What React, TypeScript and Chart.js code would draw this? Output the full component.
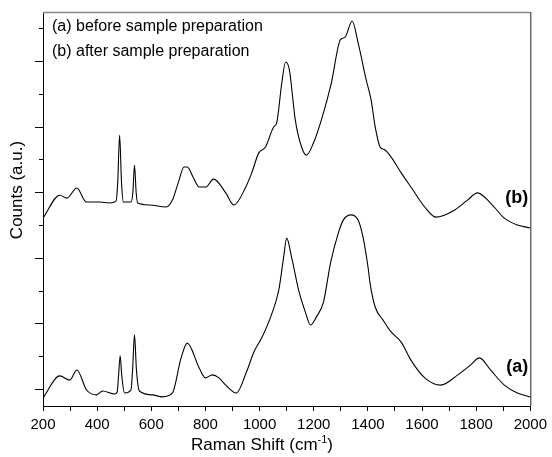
import React, { useEffect, useRef } from "react";
import { Chart, registerables } from "chart.js";

Chart.register(...registerables);

// Curve (b): after sample preparation (upper trace)
const shiftB = [200, 262, 288, 325, 360, 410, 446, 470, 476, 483, 490, 497, 525, 532, 538, 544, 550, 593, 655, 678, 700, 721, 733, 755, 777, 802, 830, 875, 905, 949, 971, 997, 1022, 1052, 1063, 1082, 1096, 1110, 1132, 1155, 1173, 1199, 1228, 1265, 1298, 1316, 1342, 1364, 1394, 1412, 1427, 1445, 1463, 1486, 1523, 1559, 1610, 1651, 1721, 1768, 1805, 1853, 1904, 1952, 2000];
const countsB = [5210, 5910, 5820, 6130, 5700, 5700, 5670, 5730, 6300, 7740, 6300, 5700, 5700, 6000, 6830, 6000, 5670, 5610, 5550, 5760, 6300, 6770, 6770, 6450, 6160, 6160, 6400, 5980, 5610, 6160, 6590, 7200, 7380, 7990, 8110, 9330, 9970, 9730, 8200, 7380, 7130, 7500, 8200, 9330, 10640, 10730, 11220, 10550, 9420, 8810, 7990, 7380, 7290, 7070, 6590, 6160, 5550, 5240, 5460, 5760, 5980, 5670, 5210, 5000, 4910];

// Curve (a): before sample preparation (lower trace)
const shiftA = [200, 262, 299, 325, 361, 398, 420, 464, 474, 479, 485, 491, 501, 525, 531, 538, 545, 556, 604, 641, 678, 710, 733, 777, 800, 825, 850, 875, 914, 953, 979, 1008, 1045, 1071, 1089, 1100, 1118, 1144, 1170, 1188, 1210, 1236, 1262, 1291, 1309, 1338, 1364, 1382, 1401, 1408, 1427, 1456, 1486, 1523, 1559, 1610, 1669, 1732, 1779, 1812, 1853, 1904, 1952, 2000];
const countsA = [-270, 400, 270, 580, -30, -180, -60, -150, -90, 400, 1010, 400, -120, -30, 600, 1650, 600, -60, -180, -240, -120, 950, 1400, 640, 340, 430, 340, 120, -120, 550, 1130, 1560, 2290, 3020, 4030, 4600, 4030, 3020, 2320, 1950, 2200, 2650, 3840, 4760, 5150, 5310, 5150, 4630, 3690, 3230, 2500, 2100, 1740, 1430, 880, 340, 120, 430, 730, 950, 580, 120, -120, -240];

const xTickLabels = ["200", "400", "600", "800", "1000", "1200", "1400", "1600", "1800", "2000"];
const yTickValues = [0, 1000, 2000, 3000, 4000, 5000, 6000, 7000, 8000, 9000, 10000, 11000];
const legendLines = ["(a) before sample preparation", "(b) after sample preparation"];

const FONT = "'Liberation Sans', Arial, Helvetica, sans-serif";

const decorPlugin = {
  id: "decor",
  afterDraw(chart: any) {
    const { ctx, chartArea, scales } = chart;
    const y = scales.y;
    ctx.save();
    // y ticks (outward, major longer)
    ctx.strokeStyle = "#000";
    ctx.lineWidth = 1;
    for (const v of yTickValues) {
      const py = Math.round(y.getPixelForValue(v)) + 0.5;
      const len = v % 2000 === 0 ? 8 : 4;
      ctx.beginPath();
      ctx.moveTo(chartArea.left - len, py);
      ctx.lineTo(chartArea.left, py);
      ctx.stroke();
    }
    // top border (gray) and right border
    ctx.strokeStyle = "#888";
    ctx.lineWidth = 1.5;
    ctx.beginPath();
    ctx.moveTo(chartArea.left, chartArea.top + 0.5);
    ctx.lineTo(chartArea.right, chartArea.top + 0.5);
    ctx.stroke();
    ctx.strokeStyle = "#222";
    ctx.lineWidth = 1;
    ctx.beginPath();
    ctx.moveTo(chartArea.right + 0.5, chartArea.top);
    ctx.lineTo(chartArea.right + 0.5, chartArea.bottom);
    ctx.stroke();

    // legend text
    ctx.fillStyle = "#000";
    ctx.font = `16px ${FONT}`;
    ctx.textAlign = "left";
    ctx.textBaseline = "middle";
    ctx.fillText(legendLines[0], chartArea.left + 9, chartArea.top + 15);
    ctx.fillText(legendLines[1], chartArea.left + 9, chartArea.top + 40);

    // curve labels
    ctx.font = `bold 18px ${FONT}`;
    ctx.textAlign = "right";
    ctx.fillText("(b)", chartArea.right - 2, 198);
    ctx.fillText("(a)", chartArea.right - 2, 367);

    // x title with superscript
    ctx.font = `17px ${FONT}`;
    ctx.textAlign = "left";
    ctx.textBaseline = "alphabetic";
    const part1 = "Raman Shift (cm";
    const sup = "-1";
    const part2 = ")";
    const w1 = ctx.measureText(part1).width;
    ctx.font = `11px ${FONT}`;
    const ws = ctx.measureText(sup).width;
    ctx.font = `17px ${FONT}`;
    const w2 = ctx.measureText(part2).width;
    const total = w1 + ws + w2;
    const cx = 262;
    let tx = cx - total / 2;
    const base = 450;
    ctx.fillText(part1, tx, base);
    tx += w1;
    ctx.font = `11px ${FONT}`;
    ctx.fillText(sup, tx, base - 7);
    tx += ws;
    ctx.font = `17px ${FONT}`;
    ctx.fillText(part2, tx, base);

    // y title
    ctx.save();
    ctx.translate(17, 190);
    ctx.rotate(-Math.PI / 2);
    ctx.textAlign = "center";
    ctx.textBaseline = "middle";
    ctx.fillText("Counts (a.u.)", 0, 0);
    ctx.restore();

    ctx.restore();
  },
};

export default function App() {
  const ref = useRef<HTMLCanvasElement | null>(null);
  useEffect(() => {
    if (!ref.current) return;
    const chart = new Chart(ref.current, {
      type: "line",
      data: {
        datasets: [
          {
            label: "(a)",
            data: shiftA.map((x, i) => ({ x, y: countsA[i] })),
            borderColor: "#000",
            borderWidth: 1.1,
            pointRadius: 0,
            cubicInterpolationMode: "monotone",
            fill: false,
          },
          {
            label: "(b)",
            data: shiftB.map((x, i) => ({ x, y: countsB[i] })),
            borderColor: "#000",
            borderWidth: 1.1,
            pointRadius: 0,
            cubicInterpolationMode: "monotone",
            fill: false,
          },
        ],
      },
      options: {
        animation: false,
        responsive: false,
        maintainAspectRatio: false,
        layout: { padding: { top: 12, right: 19, left: 0, bottom: 0 } },
        plugins: { legend: { display: false }, tooltip: { enabled: false } },
        scales: {
          x: {
            type: "linear",
            min: 200,
            max: 2000,
            afterFit: (s: any) => {
              s.height = 51;
            },
            ticks: {
              stepSize: 100,
              autoSkip: false,
              maxRotation: 0,
              padding: 5,
              color: "#000",
              font: { family: FONT, size: 15 },
              callback: (v: any) => {
                const s = String(v);
                return xTickLabels.includes(s) ? s : "";
              },
            },
            grid: { drawOnChartArea: false, tickLength: 5, color: "#000" },
            border: { display: true, color: "#000", width: 1 },
          },
          y: {
            type: "linear",
            min: -518,
            max: 11495,
            afterFit: (s: any) => {
              s.width = 43;
            },
            ticks: { display: false },
            grid: { display: false },
            border: { display: true, color: "#000", width: 1 },
          },
        },
      },
      plugins: [decorPlugin],
    });
    return () => chart.destroy();
  }, []);
  return (
    <div style={{ position: "fixed", left: 0, top: 0, width: 552, height: 457, background: "#fff" }}>
      <canvas ref={ref} width={552} height={457} style={{ display: "block" }} />
    </div>
  );
}
